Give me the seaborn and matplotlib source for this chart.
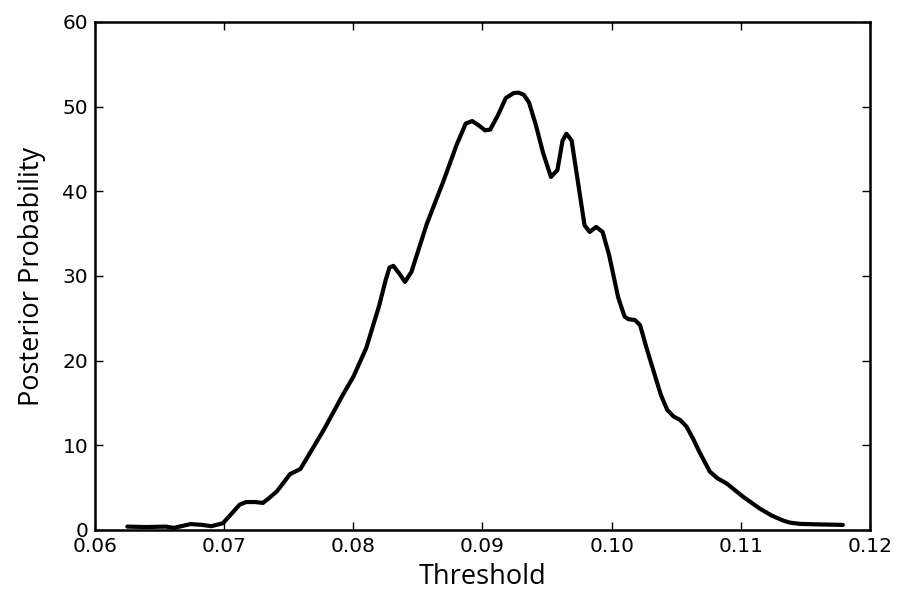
import matplotlib
matplotlib.use("Agg")
import matplotlib.pyplot as plt
import seaborn as sns
import pandas as pd

threshold = [0.0625, 0.0640, 0.0655, 0.0661, 0.0674, 0.0683, 0.0690, 0.0699,
             0.0705, 0.0712, 0.0717, 0.0724, 0.0730, 0.0735, 0.0741, 0.0751,
             0.0759, 0.0768, 0.0777, 0.0792, 0.0800, 0.0810, 0.0820, 0.0825,
             0.0828, 0.0831, 0.0836, 0.0840, 0.0845, 0.0857, 0.0870, 0.0880,
             0.0887, 0.0892, 0.0897, 0.0902, 0.0906, 0.0912, 0.0918, 0.0924,
             0.0928, 0.0932, 0.0936, 0.0941, 0.0947, 0.0953, 0.0958, 0.0962,
             0.0965, 0.0969, 0.0974, 0.0979, 0.0983, 0.0988, 0.0993, 0.0998,
             0.1005, 0.1010, 0.1013, 0.1018, 0.1022, 0.1027, 0.1032, 0.1038,
             0.1043, 0.1048, 0.1053, 0.1058, 0.1063, 0.1068, 0.1076, 0.1082,
             0.1089, 0.1102, 0.1115, 0.1124, 0.1133, 0.1138, 0.1146, 0.1158,
             0.1179]
posterior = [0.4, 0.35, 0.4, 0.25, 0.7, 0.6, 0.45, 0.8,
             1.8, 3.0, 3.3, 3.3, 3.2, 3.8, 4.6, 6.6,
             7.2, 9.5, 11.8, 16.0, 18.1, 21.5, 26.5, 29.5,
             31.0, 31.2, 30.2, 29.3, 30.5, 36.2, 41.3, 45.5,
             48.0, 48.3, 47.8, 47.2, 47.3, 49.0, 51.0, 51.6,
             51.65, 51.4, 50.5, 48.0, 44.5, 41.7, 42.5, 46.0,
             46.8, 46.0, 41.0, 36.0, 35.2, 35.8, 35.2, 32.5,
             27.5, 25.2, 24.9, 24.8, 24.2, 21.5, 19.0, 16.0,
             14.2, 13.4, 13.0, 12.2, 10.8, 9.2, 6.9, 6.1,
             5.5, 3.9, 2.5, 1.7, 1.1, 0.87, 0.72, 0.67,
             0.6]

df = pd.DataFrame({"Threshold": threshold, "Posterior Probability": posterior})

sns.set_style("white")
plt.rcParams["font.family"] = ["DejaVu Sans"]

fig = plt.figure(figsize=(8.99, 5.99), dpi=100)
ax = fig.add_axes([0.1057, 0.1152, 0.862, 0.8481])

sns.lineplot(data=df, x="Threshold", y="Posterior Probability", ax=ax,
             color="black", linewidth=3.0, sort=False)
for ln in ax.lines:
    ln.set_solid_joinstyle("round")
    ln.set_solid_capstyle("round")

ax.set_xlim(0.06, 0.12)
ax.set_ylim(0, 60)
ax.set_xticks([0.06, 0.07, 0.08, 0.09, 0.10, 0.11, 0.12])
ax.set_xticklabels(["0.06", "0.07", "0.08", "0.09", "0.10", "0.11", "0.12"])
ax.set_yticks([0, 10, 20, 30, 40, 50, 60])

for s in ax.spines.values():
    s.set_visible(True)
    s.set_color("black")
    s.set_linewidth(1.8)

ax.tick_params(axis="both", which="major", direction="in", length=6, width=1,
               top=True, right=True, bottom=True, left=True,
               labelsize=14.5, colors="black", pad=5)

ax.set_xlabel("Threshold", fontsize=19.5, family=["Open Sans", "DejaVu Sans"],
              color="black", labelpad=5)
ax.set_ylabel("Posterior Probability", fontsize=19.5, family=["Open Sans", "DejaVu Sans"],
              color="black", labelpad=12)

fig.savefig("out.png", dpi=100, facecolor="white")
